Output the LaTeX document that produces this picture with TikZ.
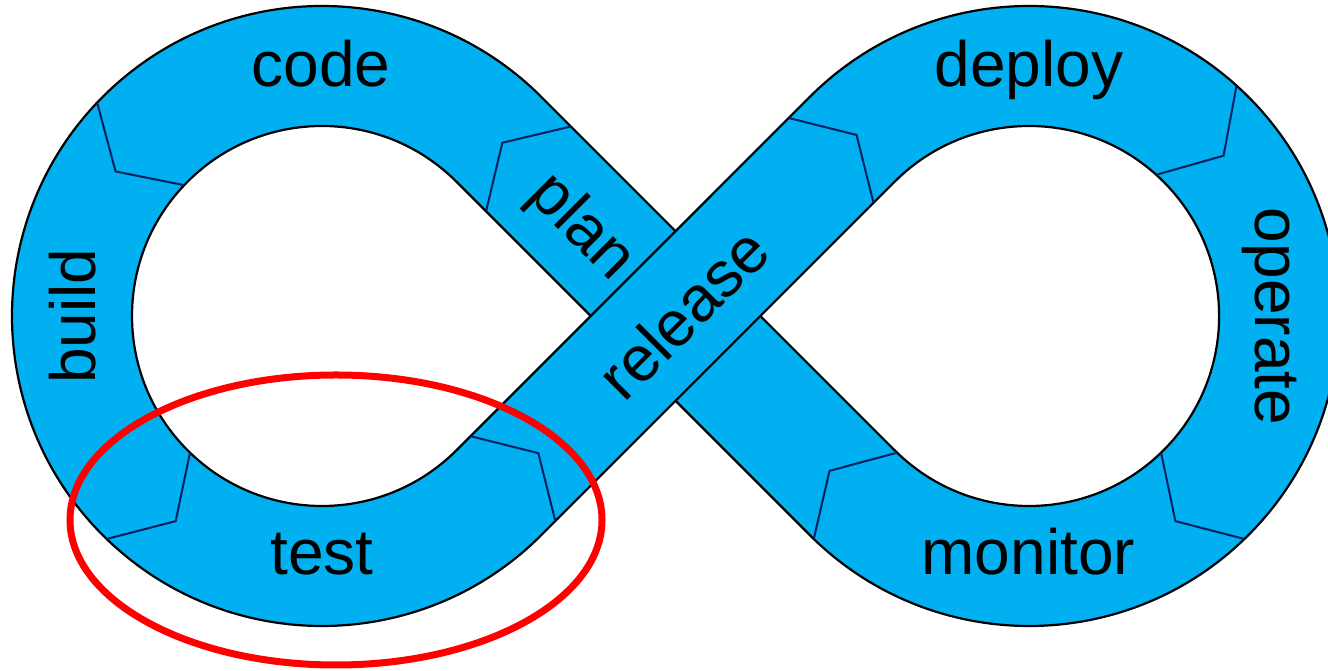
\documentclass[tikz,border=0pt]{standalone}
\usepackage{fontspec}
\setmainfont{Liberation Sans}
\usetikzlibrary{calc}
\definecolor{devblue}{RGB}{0,176,240}
\definecolor{divnavy}{RGB}{0,32,96}
\definecolor{ringred}{RGB}{255,0,0}
\begin{document}
\begin{tikzpicture}[x=1pt,y=1pt,
  ringfill/.style={fill=devblue,draw=none},
  ringline/.style={draw=black,line width=2.2pt,line cap=round,line join=round},
  divline/.style={draw=divnavy,line width=2pt,line join=miter},
  stagetext/.style={font=\fontsize{64}{64}\selectfont,text=black,inner sep=0pt},
  redring/.style={draw=ringred,line width=7pt}]
\useasboundingbox (0,0) rectangle (1328,671);
\clip (0,0) rectangle (1328,671);
\coordinate (L) at (322,355);
\coordinate (R) at (1029.1,355);
% under strip: left loop + plan band + right loop
\fill[ringfill] ($(L)+(315:310pt)$) arc[start angle=315,end angle=45,radius=310pt]
  -- ($(R)+(225:190pt)$) arc[start angle=225,end angle=495,radius=190pt]
  -- ($(R)+(135:310pt)$) arc[start angle=135,end angle=-135,radius=310pt]
  -- ($(L)+(45:190pt)$) arc[start angle=45,end angle=315,radius=190pt] -- cycle;
% plan band edges (partly hidden by release band)
\draw[ringline] ($(L)+(45:310pt)$) -- ($(R)+(225:190pt)$);
\draw[ringline] ($(R)+(225:310pt)$) -- ($(L)+(45:190pt)$);
% release band on top (slightly extended to hide seams)
\fill[ringfill] ($(L)+(315:310pt)+(225:3pt)$) -- ($(R)+(135:190pt)+(45:3pt)$)
  -- ($(R)+(135:310pt)+(45:3pt)$) -- ($(L)+(315:190pt)+(225:3pt)$) -- cycle;
% outlines of loops and release band
\draw[ringline] ($(R)+(225:190pt)$) arc[start angle=225,end angle=495,radius=190pt]
  -- ($(L)+(315:310pt)$) arc[start angle=315,end angle=45,radius=310pt];
\draw[ringline] ($(L)+(45:190pt)$) arc[start angle=45,end angle=315,radius=190pt]
  -- ($(R)+(135:310pt)$) arc[start angle=135,end angle=-135,radius=310pt];
% dividers
\coordinate (C1) at ($(L)+(45:250pt)+(-45:42pt)$);
\draw[divline] ($(C1)+(45:60pt)$) -- ($(C1)+(135:37pt)$) -- ($(C1)+(225:60pt)$);
\draw[divline] ($(L)+(136.5:310pt)$) -- ($(L)+(145:252pt)$) -- ($(L)+(136.5:190pt)$);
\draw[divline] ($(L)+(226:310pt)$) -- ($(L)+(234.5:252pt)$) -- ($(L)+(226:190pt)$);
\coordinate (C4) at ($(L)+(315:250pt)+(45:20pt)$);
\draw[divline] ($(C4)+(315:60pt)$) -- ($(C4)+(45:36pt)$) -- ($(C4)+(135:60pt)$);
\coordinate (C5) at ($(R)+(135:250pt)+(225:30pt)$);
\draw[divline] ($(C5)+(315:60pt)$) -- ($(C5)+(45:36pt)$) -- ($(C5)+(135:60pt)$);
\draw[divline] ($(R)+(48:310pt)$) -- ($(R)+(39.5:252pt)$) -- ($(R)+(48:190pt)$);
\draw[divline] ($(R)+(-46:310pt)$) -- ($(R)+(-54.5:252pt)$) -- ($(R)+(-46:190pt)$);
\coordinate (C8) at ($(R)+(226:250pt)$);
\draw[divline] ($(R)+(226:310pt)$) -- ($(C8)+(136:36pt)$) -- ($(R)+(226:190pt)$);
% labels
\node[stagetext,anchor=base] (code) at (321,584.3) {code};
\node[stagetext,anchor=base] (deploy) at (1029,584.3) {deploy};
\node[stagetext,anchor=base] (test) at (322,96) {test};
\node[stagetext,anchor=base] (monitor) at (1028.3,96) {monitor};
\node[stagetext,anchor=base,rotate=90] (build) at (95,355) {build};
\node[stagetext,anchor=base,rotate=-90] (operate) at (1255,354.5) {operate};
\node[stagetext,rotate=-45] (plan) at (581,443) {plan};
\node[stagetext,rotate=45] (release) at (683,358) {release};
% highlight
\draw[redring] (336,151) ellipse [x radius=266pt,y radius=145pt];
\end{tikzpicture}
\end{document}
